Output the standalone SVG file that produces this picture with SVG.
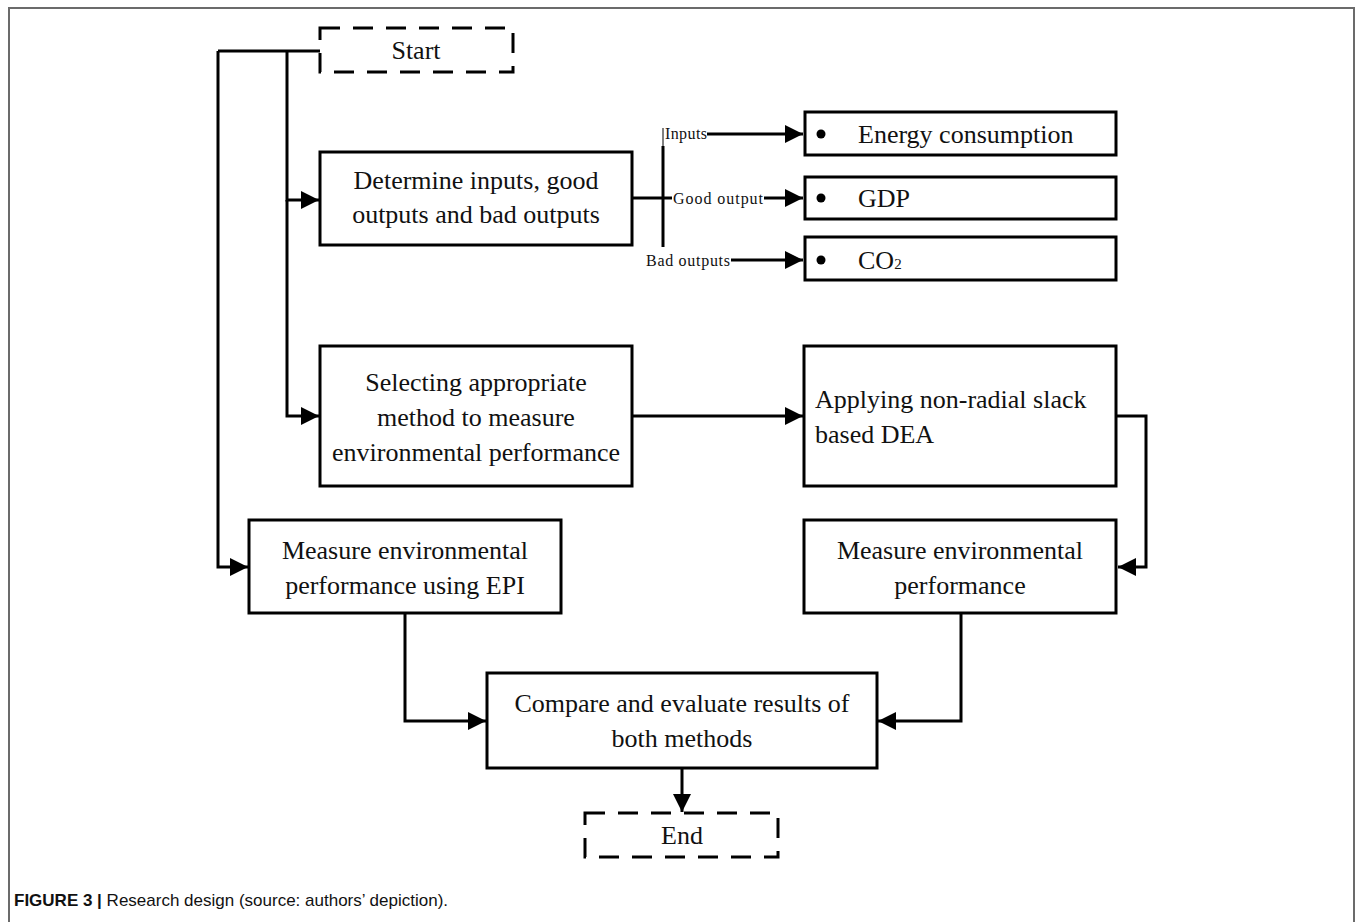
<svg xmlns="http://www.w3.org/2000/svg" width="1355" height="922" viewBox="0 0 1355 922">
<defs>
<marker id="ah" markerWidth="6" markerHeight="6" refX="6" refY="3" orient="auto" markerUnits="strokeWidth">
<path d="M0,0 L6,3 L0,6 Z" fill="#000"/>
</marker>
<style>
.box{fill:#fff;stroke:#000;stroke-width:3}
.dash{fill:#fff;stroke:#000;stroke-width:3;stroke-dasharray:20 13}
.t{font-family:"Liberation Serif",serif;font-size:26px;fill:#111;text-anchor:middle}
.tl{font-family:"Liberation Serif",serif;font-size:26px;fill:#111}
.s{font-family:"Liberation Serif",serif;font-size:16px;fill:#111}
.c{fill:none;stroke:#000;stroke-width:3}
.ca{fill:none;stroke:#000;stroke-width:3;marker-end:url(#ah)}
</style>
</defs>
<rect width="1355" height="922" fill="#fff"/>
<path d="M9,922 V8 H1354 V922" fill="none" stroke="#6b6b6b" stroke-width="2"/>

<g id="connectors">
<path class="c" d="M218,51 H320"/>
<path class="ca" d="M218,51 V567 H248"/>
<path class="ca" d="M287,51 V200 H319"/>
<path class="ca" d="M287,200 V416 H319"/>
<path class="c" d="M632,198 H663"/>
<path d="M663,128 V146" stroke="#000" stroke-width="1"/>
<path class="c" d="M663,146 V247"/>
<path class="c" d="M663,198 H672"/>
<path class="ca" d="M707,134 H803"/>
<path class="ca" d="M764,198 H803"/>
<path class="ca" d="M731,260 H803"/>
<path class="ca" d="M632,416 H803"/>
<path class="ca" d="M1116,416 H1146 V567 H1118"/>
<path class="ca" d="M405,613 V721 H486"/>
<path class="ca" d="M961,613 V721 H878"/>
<path class="ca" d="M682,768 V812"/>
</g>

<g id="start">
<rect class="dash" x="320" y="28" width="193" height="44"/>
<text class="t" x="416" y="59">Start</text>
</g>

<g id="determine">
<rect class="box" x="320" y="152" width="312" height="93"/>
<text class="t" x="476" y="189">Determine inputs, good</text>
<text class="t" x="476" y="223">outputs and bad outputs</text>
</g>

<g id="labels">
<text class="s" x="665" y="139" textLength="42">Inputs</text>
<text class="s" x="673" y="204" textLength="90">Good output</text>
<text class="s" x="646" y="266" textLength="84">Bad outputs</text>
</g>

<g id="energy">
<rect class="box" x="805" y="112" width="311" height="43"/>
<circle cx="821" cy="134" r="4.5" fill="#000"/>
<text class="tl" x="858" y="143">Energy consumption</text>
</g>

<g id="gdp">
<rect class="box" x="805" y="177" width="311" height="42"/>
<circle cx="821" cy="198" r="4.5" fill="#000"/>
<text class="tl" x="858" y="207">GDP</text>
</g>

<g id="co2">
<rect class="box" x="805" y="237" width="311" height="43"/>
<circle cx="821" cy="260" r="4.5" fill="#000"/>
<text class="tl" x="858" y="269">CO<tspan font-size="15">2</tspan></text>
</g>

<g id="selecting">
<rect class="box" x="320" y="346" width="312" height="140"/>
<text class="t" x="476" y="391">Selecting appropriate</text>
<text class="t" x="476" y="426">method to measure</text>
<text class="t" x="476" y="461">environmental performance</text>
</g>

<g id="applying">
<rect class="box" x="804" y="346" width="312" height="140"/>
<text class="tl" x="815" y="408">Applying non-radial slack</text>
<text class="tl" x="815" y="443">based DEA</text>
</g>

<g id="epi">
<rect class="box" x="249" y="520" width="312" height="93"/>
<text class="t" x="405" y="559">Measure environmental</text>
<text class="t" x="405" y="594">performance using EPI</text>
</g>

<g id="measure">
<rect class="box" x="804" y="520" width="312" height="93"/>
<text class="t" x="960" y="559">Measure environmental</text>
<text class="t" x="960" y="594">performance</text>
</g>

<g id="compare">
<rect class="box" x="487" y="673" width="390" height="95"/>
<text class="t" x="682" y="712">Compare and evaluate results of</text>
<text class="t" x="682" y="747">both methods</text>
</g>

<g id="end">
<rect class="dash" x="585" y="813" width="193" height="44"/>
<text class="t" x="682" y="844">End</text>
</g>

<text x="14" y="906" font-family="'Liberation Sans',Arial,sans-serif" font-size="17" fill="#111"><tspan font-weight="bold">FIGURE 3 |</tspan> Research design (source: authors’ depiction).</text>
</svg>
